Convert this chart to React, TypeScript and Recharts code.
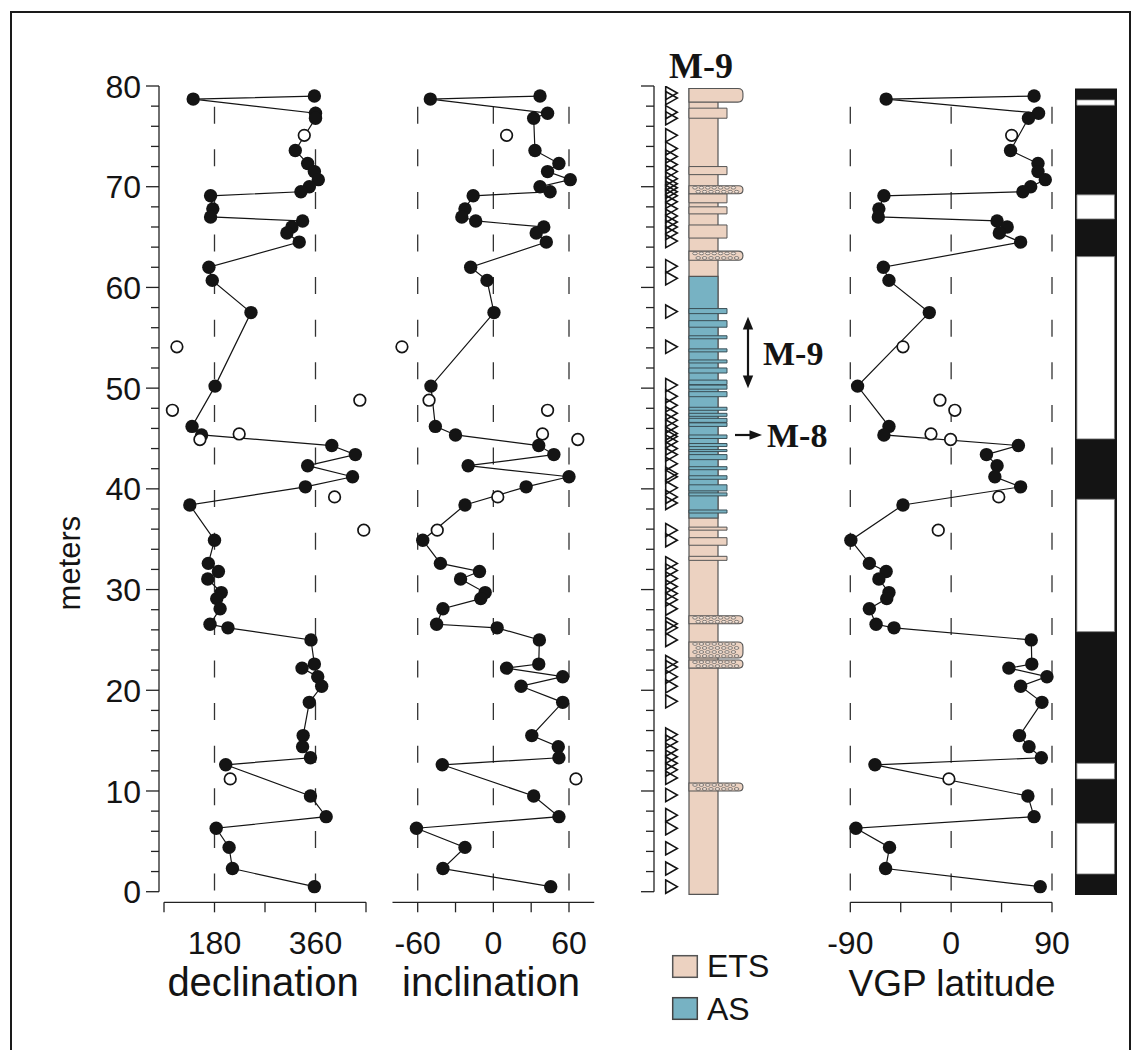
import React from "react";
import {
  ComposedChart,
  ReferenceArea,
  ReferenceLine,
  Scatter,
  XAxis,
  YAxis,
} from "recharts";

// accepted samples, top to bottom (m)
const sampleDepth = [79.0, 78.7, 77.3, 76.8, 73.6, 72.3, 71.5, 70.7, 70.0, 69.5, 69.1, 67.8, 67.0, 66.6, 66.0, 65.4, 64.5, 62.0, 60.7, 57.5, 50.2, 46.2, 45.35, 44.3, 43.4, 42.3, 41.2, 40.2, 38.4, 34.9, 32.6, 31.8, 31.05, 29.7, 29.1, 28.1, 26.55, 26.2, 25.0, 22.6, 22.2, 21.35, 20.4, 18.8, 15.5, 14.4, 13.3, 12.6, 9.5, 7.45, 6.3, 4.4, 2.3, 0.5];
const declination = [358, 142, 360, 360, 324, 346, 358, 365, 349, 334, 173, 177, 173, 337, 318, 309, 331, 170, 176, 245, 181, 140, 157, 389, 431, 346, 426, 342, 136, 180, 169, 187, 168, 192, 184, 190, 172, 204, 352, 358, 336, 364, 371, 349, 338, 337, 351, 200, 351, 379, 183, 206, 212, 358];
const inclination = [37, -50, 43, 32, 33, 52, 43, 61, 37, 45, -16, -22.5, -25, -14, 40, 34, 42, -18, -5, 0.5, -49.5, -46, -30, 36, 48, -20, 60, 26, -22.5, -56, -42, -11, -26, -6.5, -10, -40, -45, 3, 36.5, 36, 10.5, 55, 22, 55, 30.5, 51.5, 52, -40.5, 32, 52, -61, -22.5, -40, 45.5];
const vgpLatitude = [74, -58, 78, 69, 53, 77.5, 77.5, 84, 71, 64, -60, -64.5, -65, 41, 50, 43, 62, -60.5, -55.5, -19.5, -83.5, -55.5, -60, 60, 31.5, 41, 39, 62, -43, -89.5, -73, -58, -64.5, -55.5, -57.5, -73, -67, -51, 71.5, 72, 51.5, 85.5, 62, 81, 61, 69.5, 80.5, -68, 68.5, 74, -85, -55, -58.5, 79.5];

// rejected samples (open circles)
const rejectedDepth = [75.1, 54.1, 48.8, 47.8, 45.45, 44.9, 39.2, 35.9, 11.2];
const rejectedDec = [340, 113, 439, 105, 224, 154, 394, 446, 208];
const rejectedInc = [10.5, -72.5, -51, 43, 39, 67, 3.5, -44.5, 65.5];
const rejectedVgp = [54, -43, -10, 3.3, -18, -0.5, 42.5, -11.5, -2];

// sampling levels drawn as triangles beside the log
const sampleLevels = [79.3, 78.8, 77.4, 76.8, 75.1, 73.8, 73.0, 72.2, 71.5, 70.8, 70.3, 69.9, 69.5, 69.1, 68.5, 67.8, 67.1, 66.5, 66.0, 65.4, 64.6, 62.1, 60.9, 57.6, 54.1, 50.3, 49.2, 48.3, 47.5, 46.8, 46.2, 45.5, 45.2, 44.7, 44.0, 43.4, 42.5, 41.5, 41.2, 40.1, 39.2, 38.6, 35.9, 34.9, 32.6, 31.9, 31.1, 30.3, 29.6, 29.0, 28.1, 26.6, 26.2, 25.0, 22.8, 22.3, 21.35, 20.4, 18.9, 15.6, 14.9, 14.1, 13.4, 12.75, 12.1, 11.3, 9.6, 7.6, 6.3, 4.3, 2.3, 0.5];

// lithology (m)
const sectionBase = -0.26;
const sectionTop = 79.75;
const asInterval = [37.1, 61.1];
const sandBeds = [
  [76.8, 77.8], [71.2, 72.0], [68.4, 69.3], [67.3, 68.0], [64.9, 66.2],
  [57.4, 57.9], [56.05, 56.7], [54.9, 55.2], [53.6, 53.9], [52.5, 52.8], [51.5, 52.0],
  [50.35, 50.8], [49.9, 50.3], [49.15, 49.65], [47.8, 48.1], [47.2, 47.5], [46.6, 47.0],
  [46.2, 46.55], [45.0, 45.35], [44.2, 44.5], [43.7, 43.9], [42.9, 43.4], [41.9, 42.2],
  [40.95, 41.3], [39.8, 40.4], [39.3, 39.6], [37.6, 37.9],
  [35.9, 36.2], [34.4, 35.15], [32.9, 33.3],
];
const capBed = [78.4, 79.75];
const conglomerateBeds = [[69.3, 70.1], [62.7, 63.6], [26.6, 27.4], [23.2, 24.8], [22.2, 23.0], [10.0, 10.8]];

// polarity column: reversed (white) zones, rest normal (black)
const polarityRange = [-0.33, 79.74];
const reversedZones = [[78.09, 78.62], [66.8, 69.19], [44.96, 63.06], [25.82, 38.97], [11.19, 12.75], [1.76, 6.79]];

const depthLabels = [0, 10, 20, 30, 40, 50, 60, 70, 80];
const depthTicks = Array.from({ length: 41 }, (_, i) => i * 2);

const FONT = "'Liberation Sans', Arial, Helvetica, sans-serif";
const SERIF = "'Liberation Serif', 'Times New Roman', serif";
const INK = "#141414";
const ETS_COLOR = "#ecd2c1";
const AS_COLOR = "#77b2c3";
const TICK_FONT = 32;

const PLOT_TOP = 86;
const PLOT_BOTTOM = 902.3;
const Y_ZERO = 891.7;
const CHART_H = 1000;
const X_AXIS_H = 40;
const PX_PER_M = (Y_ZERO - PLOT_TOP) / 80;
const DEPTH_DOMAIN = [-(PLOT_BOTTOM - Y_ZERO) / PX_PER_M, 80];
const DASH_TOP = (Y_ZERO - 106.7) / PX_PER_M;

// domain that puts v0 at pixel p0 and v1 at p1 inside a plot spanning plotL..plotR
function fitDomain(p0: number, p1: number, v0: number, v1: number, plotL: number, plotR: number) {
  const k = (p1 - p0) / (v1 - v0);
  return [v0 - (p0 - plotL) / k, v1 + (plotR - p1) / k];
}

const DepthTick = (props: any) => {
  const { x, y, payload, showLabels } = props;
  const major = payload.value % 10 === 0;
  return (
    <g>
      <line x1={x - (major ? 13 : 8)} x2={x} y1={y} y2={y} stroke="#222" strokeWidth={1.3} />
      {showLabels && major && depthLabels.includes(payload.value) ? (
        <text x={x - 18} y={y} dy="0.36em" textAnchor="end" fontSize={TICK_FONT} fill={INK} fontFamily={FONT}>
          {payload.value}
        </text>
      ) : null}
    </g>
  );
};

const FilledDot = (p: any) => <circle cx={p.cx} cy={p.cy} r={6.7} fill={INK} />;
const OpenDot = (p: any) => (
  <circle cx={p.cx} cy={p.cy} r={5.8} fill="#fff" stroke={INK} strokeWidth={1.7} />
);
const SampleTriangle = (p: any) => (
  <path
    d={`M${p.cx - 5.8},${p.cy - 6.6} L${p.cx + 5.8},${p.cy} L${p.cx - 5.8},${p.cy + 6.6} Z`}
    fill="none"
    stroke={INK}
    strokeWidth={1.6}
  />
);

const CoarseBed = (p: any) => {
  const { x, y, width, height, pebbles } = p;
  const r = Math.min(height / 2, 5);
  const d = `M${x},${y} H${x + width - r} Q${x + width},${y} ${x + width},${y + r} V${y + height - r} Q${x + width},${y + height} ${x + width - r},${y + height} H${x} Z`;
  const dots: React.ReactNode[] = [];
  if (pebbles) {
    const rows = Math.max(2, Math.floor(height / 3.8));
    const gap = height / rows;
    for (let i = 0; i < rows; i++) {
      const cy = y + gap * (i + 0.5);
      for (let cx = x + 6 + (i % 2) * 3.2; cx < x + width - 5; cx += 6.4) {
        dots.push(
          <ellipse key={`${i}-${cx}`} cx={cx} cy={cy} rx={2.3} ry={Math.min(1.4, gap / 2.6)} fill="#f4e4d9" stroke="#555" strokeWidth={0.7} />
        );
      }
    }
  }
  return (
    <g>
      <path d={d} fill={ETS_COLOR} stroke="#555" strokeWidth={1.1} />
      {dots}
    </g>
  );
};

interface PanelProps {
  left: number;
  width: number;
  depthAxisWidth: number;
  marginLeft: number;
  marginRight: number;
  anchors: [number, number, number, number];
  axisSpan: [number, number];
  ticks: number[];
  tickLabels: number[];
  guides: number[];
  values: number[];
  rejected: number[];
}

function DataPanel(props: PanelProps) {
  const { left, width, depthAxisWidth, marginLeft, marginRight, anchors, axisSpan, ticks, tickLabels, guides, values, rejected } = props;
  const plotL = left + marginLeft + depthAxisWidth;
  const plotR = left + width - marginRight;
  const domain = fitDomain(anchors[0], anchors[1], anchors[2], anchors[3], plotL, plotR);
  const accepted = sampleDepth.map((d, i) => ({ x: values[i], y: d }));
  const open = rejectedDepth.map((d, i) => ({ x: rejected[i], y: d }));
  const bottom = DEPTH_DOMAIN[0];

  return (
    <div style={{ position: "absolute", left, top: 0 }}>
      <ComposedChart
        width={width}
        height={CHART_H}
        margin={{ top: PLOT_TOP, bottom: CHART_H - PLOT_BOTTOM - X_AXIS_H, left: marginLeft, right: marginRight }}
      >
        <XAxis
          type="number"
          dataKey="x"
          domain={domain}
          allowDataOverflow
          ticks={ticks}
          interval={0}
          height={X_AXIS_H}
          axisLine={false}
          tickSize={10}
          tickMargin={19}
          tickLine={{ stroke: "#222", strokeWidth: 1.3 }}
          tick={{ fontSize: TICK_FONT, fill: INK, fontFamily: FONT }}
          tickFormatter={(v: number) => (tickLabels.includes(v) ? String(v) : "")}
        />
        <YAxis
          type="number"
          dataKey="y"
          domain={DEPTH_DOMAIN}
          allowDataOverflow
          hide={depthAxisWidth === 0}
          width={depthAxisWidth}
          ticks={depthTicks}
          interval={0}
          axisLine={false}
          tickLine={false}
          tickSize={0}
          tickMargin={0}
          tick={<DepthTick showLabels />}
        />
        {depthAxisWidth > 0 && (
          <ReferenceLine
            segment={[{ x: domain[0], y: 0 }, { x: domain[0], y: 80 }]}
            stroke="#222"
            strokeWidth={1.3}
            ifOverflow="visible"
          />
        )}
        <ReferenceLine
          segment={[{ x: axisSpan[0], y: bottom }, { x: axisSpan[1], y: bottom }]}
          stroke="#222"
          strokeWidth={1.3}
          ifOverflow="visible"
        />
        {guides.map((g) => (
          <ReferenceLine
            key={g}
            segment={[{ x: g, y: DASH_TOP }, { x: g, y: 0 }]}
            stroke="#333"
            strokeWidth={1.3}
            strokeDasharray="17 25.6"
            ifOverflow="visible"
          />
        ))}
        <Scatter
          data={accepted}
          line={{ stroke: INK, strokeWidth: 1.2 }}
          lineType="joint"
          shape={FilledDot}
          isAnimationActive={false}
        />
        <Scatter data={open} shape={OpenDot} isAnimationActive={false} />
      </ComposedChart>
    </div>
  );
}

function LithologyLog() {
  const left = 620;
  const width = 150;
  const axisW = 34;
  // column body spans 0..1 (689..718 px)
  const domain = fitDomain(689, 718, 0, 1, left + axisW, left + width);
  const triangles = sampleLevels.map((d) => ({ x: -0.603, y: d }));
  const inAS = (b: number[]) => b[0] >= asInterval[0] && b[1] <= asInterval[1];

  return (
    <div style={{ position: "absolute", left, top: 0 }}>
      <ComposedChart
        width={width}
        height={CHART_H}
        margin={{ top: PLOT_TOP, bottom: CHART_H - PLOT_BOTTOM, left: 0, right: 0 }}
      >
        <XAxis hide type="number" dataKey="x" domain={domain} allowDataOverflow />
        <YAxis
          type="number"
          dataKey="y"
          domain={DEPTH_DOMAIN}
          allowDataOverflow
          width={axisW}
          ticks={depthTicks}
          interval={0}
          axisLine={false}
          tickLine={false}
          tickSize={0}
          tickMargin={0}
          tick={<DepthTick showLabels={false} />}
        />
        <ReferenceLine
          segment={[{ x: domain[0], y: 0 }, { x: domain[0], y: 80 }]}
          stroke="#222"
          strokeWidth={1.3}
          ifOverflow="visible"
        />
        <ReferenceArea x1={0} x2={1} y1={sectionBase} y2={sectionTop} fill={ETS_COLOR} fillOpacity={1} stroke="#555" strokeWidth={1.2} ifOverflow="visible" />
        <ReferenceArea x1={0} x2={1} y1={asInterval[0]} y2={asInterval[1]} fill={AS_COLOR} fillOpacity={1} stroke="#555" strokeWidth={1.2} ifOverflow="visible" />
        {sandBeds.map((b) => (
          <ReferenceArea
            key={b[0]}
            x1={0}
            x2={1.31}
            y1={b[0]}
            y2={b[1]}
            fill={inAS(b) ? AS_COLOR : ETS_COLOR}
            fillOpacity={1}
            stroke={inAS(b) ? "#3a4f56" : "#555"}
            strokeWidth={1}
            ifOverflow="visible"
          />
        ))}
        <ReferenceArea
          x1={0}
          x2={1.86}
          y1={capBed[0]}
          y2={capBed[1]}
          ifOverflow="visible"
          shape={(p: any) => <CoarseBed {...p} pebbles={false} />}
        />
        {conglomerateBeds.map((b) => (
          <ReferenceArea
            key={b[0]}
            x1={0}
            x2={1.86}
            y1={b[0]}
            y2={b[1]}
            ifOverflow="visible"
            shape={(p: any) => <CoarseBed {...p} pebbles />}
          />
        ))}
        <Scatter data={triangles} shape={SampleTriangle} isAnimationActive={false} />
      </ComposedChart>
    </div>
  );
}

function PolarityColumn() {
  const left = 1065;
  const width = 60;
  return (
    <div style={{ position: "absolute", left, top: 0 }}>
      <ComposedChart
        width={width}
        height={CHART_H}
        margin={{ top: PLOT_TOP, bottom: CHART_H - PLOT_BOTTOM, left: 10, right: 8 }}
      >
        <XAxis hide type="number" dataKey="x" domain={[0, 1]} allowDataOverflow />
        <YAxis hide type="number" dataKey="y" domain={DEPTH_DOMAIN} allowDataOverflow />
        <ReferenceArea x1={0} x2={1} y1={polarityRange[0]} y2={polarityRange[1]} fill={INK} fillOpacity={1} ifOverflow="visible" />
        {reversedZones.map((z) => (
          <ReferenceArea
            key={z[0]}
            x1={0.045}
            x2={0.94}
            y1={z[0]}
            y2={z[1]}
            fill="#fff"
            fillOpacity={1}
            stroke="#777"
            strokeWidth={0.8}
            ifOverflow="visible"
          />
        ))}
      </ComposedChart>
    </div>
  );
}

export default function App() {
  return (
    <div
      style={{
        position: "absolute",
        left: 0,
        top: 0,
        width: 1134,
        height: 1050,
        overflow: "hidden",
        background: "#fff",
        fontFamily: FONT,
      }}
    >
      <div
        style={{
          position: "absolute",
          left: 10,
          top: 11,
          width: 1121,
          height: 1100,
          border: "2px solid #1a1a1a",
          boxSizing: "border-box",
        }}
      />
      <DataPanel
        left={0}
        width={385}
        depthAxisWidth={159}
        marginLeft={0}
        marginRight={5}
        anchors={[164, 366, 90, 450]}
        axisSpan={[90, 450]}
        ticks={[90, 180, 270, 360, 450]}
        tickLabels={[180, 360]}
        guides={[180, 360]}
        values={declination}
        rejected={rejectedDec}
      />
      <DataPanel
        left={370}
        width={240}
        depthAxisWidth={0}
        marginLeft={15}
        marginRight={5}
        anchors={[417.7, 569, -60, 60]}
        axisSpan={[-80, 80]}
        ticks={[-60, -30, 0, 30, 60]}
        tickLabels={[-60, 0, 60]}
        guides={[-60, 0, 60]}
        values={inclination}
        rejected={rejectedInc}
      />
      <DataPanel
        left={795}
        width={290}
        depthAxisWidth={0}
        marginLeft={45}
        marginRight={25}
        anchors={[850.3, 1052, -90, 90]}
        axisSpan={[-90, 90]}
        ticks={[-90, -45, 0, 45, 90]}
        tickLabels={[-90, 0, 90]}
        guides={[-90, 0, 90]}
        values={vgpLatitude}
        rejected={rejectedVgp}
      />
      <LithologyLog />
      <PolarityColumn />

      <svg
        width={1134}
        height={1050}
        style={{ position: "absolute", left: 0, top: 0, pointerEvents: "none" }}
      >
        <text x={80} y={563} transform="rotate(-90 80 563)" textAnchor="middle" fontSize={31} fill={INK} fontFamily={FONT}>
          meters
        </text>
        <text x={263} y={996} textAnchor="middle" fontSize={40} fill={INK} fontFamily={FONT}>
          declination
        </text>
        <text x={491} y={996} textAnchor="middle" fontSize={40} fill={INK} fontFamily={FONT}>
          inclination
        </text>
        <text x={952} y={996} textAnchor="middle" fontSize={37} fill={INK} fontFamily={FONT}>
          VGP latitude
        </text>

        <text x={701} y={78} textAnchor="middle" fontSize={36} fontWeight="bold" fill={INK} fontFamily={SERIF}>
          M-9
        </text>
        <line x1={748} x2={748} y1={326} y2={379} stroke={INK} strokeWidth={2.2} />
        <polygon points="748,316.7 742.8,329.5 753.2,329.5" fill={INK} />
        <polygon points="748,388.3 742.8,375.5 753.2,375.5" fill={INK} />
        <text x={763} y={365} fontSize={34} fontWeight="bold" fill={INK} fontFamily={SERIF}>
          M-9
        </text>
        <line x1={735} x2={752} y1={435} y2={435} stroke={INK} strokeWidth={2.2} />
        <polygon points="762,435 749.5,430.2 749.5,439.8" fill={INK} />
        <text x={767} y={447} fontSize={34} fontWeight="bold" fill={INK} fontFamily={SERIF}>
          M-8
        </text>

        <rect x={672.7} y={955.7} width={24.6} height={21.6} fill={ETS_COLOR} stroke="#555" strokeWidth={1.5} />
        <text x={707} y={977} fontSize={32} fill={INK} fontFamily={FONT}>
          ETS
        </text>
        <rect x={672.7} y={997.7} width={24.6} height={21.6} fill={AS_COLOR} stroke="#444" strokeWidth={1.5} />
        <text x={707} y={1019.5} fontSize={32} fill={INK} fontFamily={FONT}>
          AS
        </text>
      </svg>
    </div>
  );
}
